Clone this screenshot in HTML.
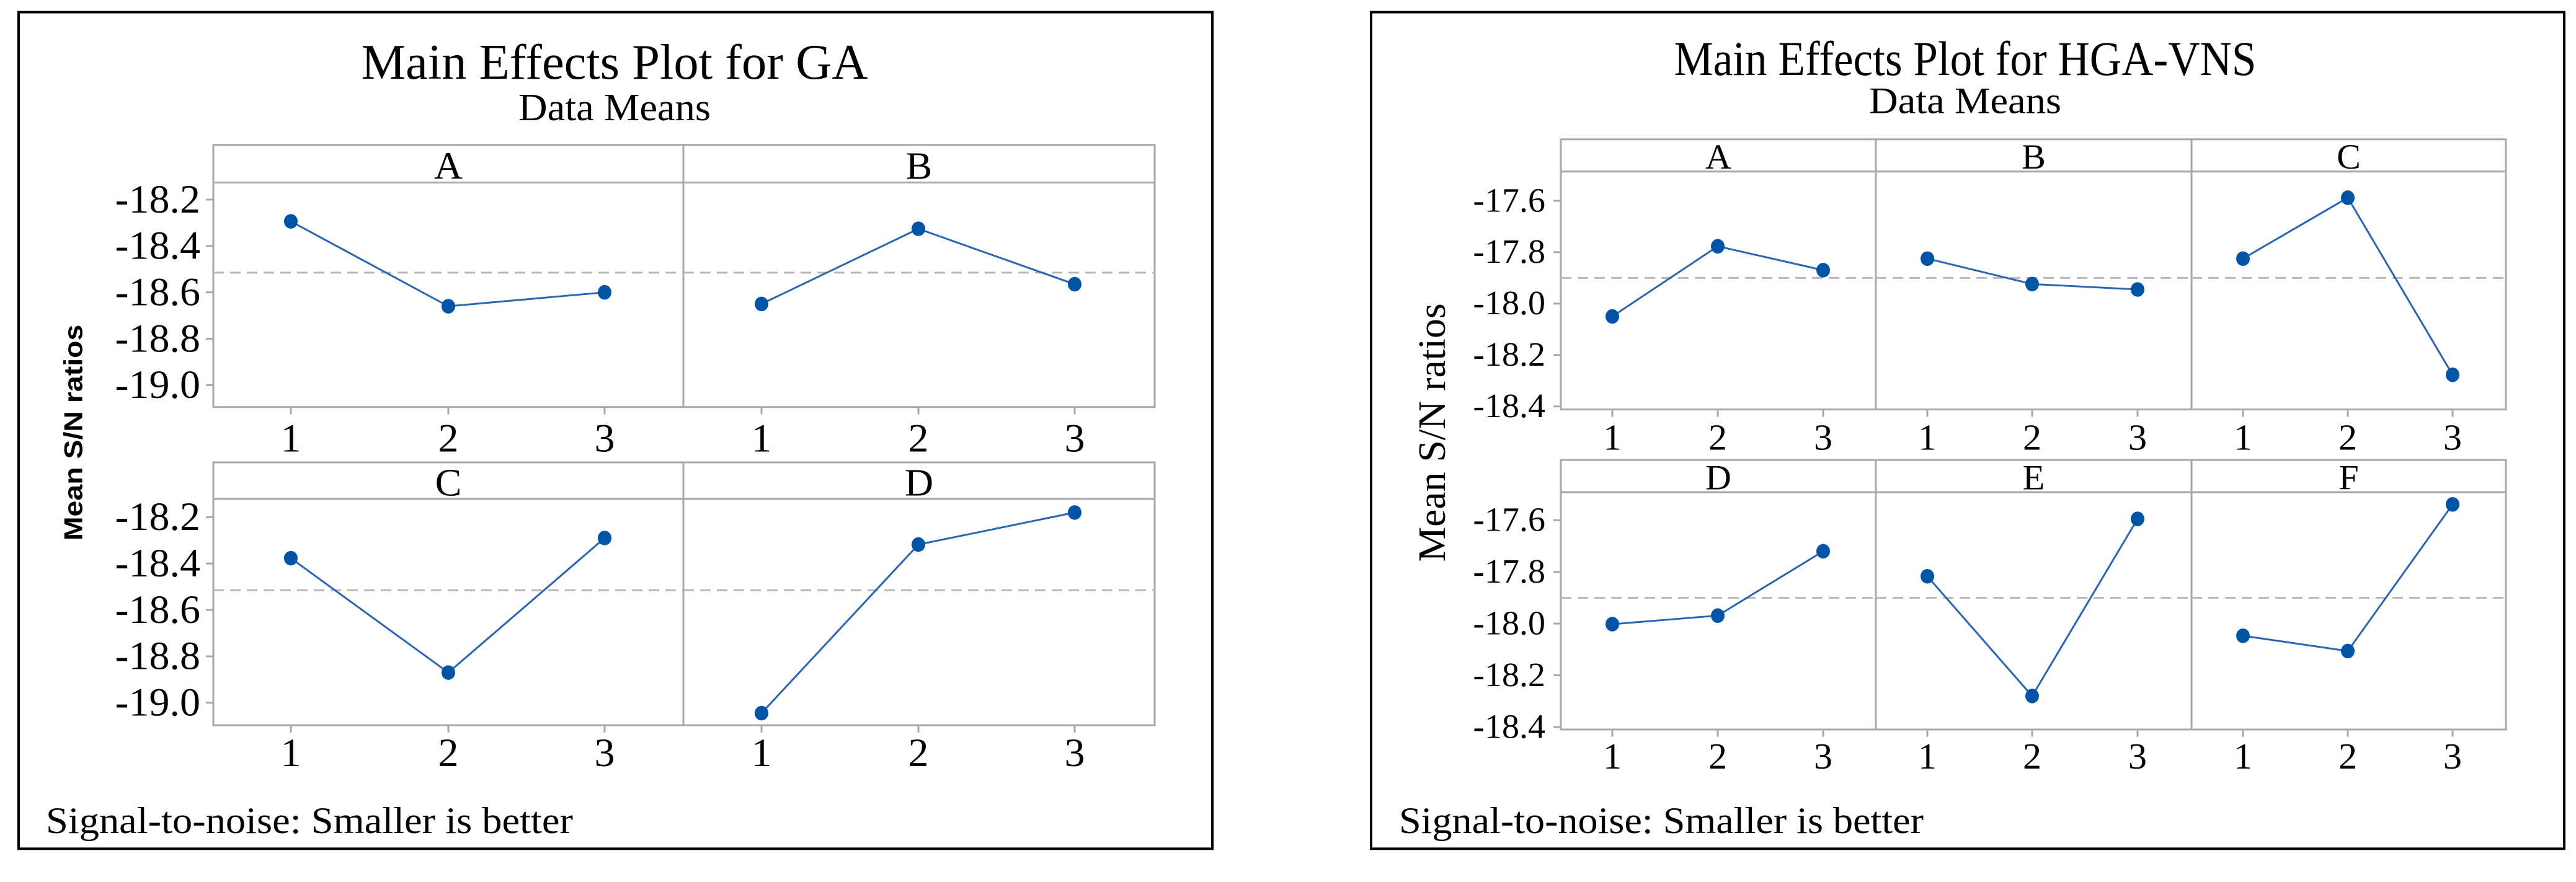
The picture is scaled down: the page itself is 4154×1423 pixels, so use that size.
<!DOCTYPE html>
<html><head><meta charset="utf-8"><style>
html,body{margin:0;padding:0;background:#fff;}
svg{display:block;}
</style></head><body>
<svg id="c" width="4154" height="1423" viewBox="0 0 4154 1423" xmlns="http://www.w3.org/2000/svg"><g id="root" transform="scale(1,0.9816)"></g></svg>
<script>
// ---- data ----
const gaFactors = ["A","B","C","D"];
const gaLevels = ["1","2","3"];
const gaA = [-18.294, -18.66, -18.60];
const gaB = [-18.65, -18.326, -18.565];
const gaC = [-18.377, -18.87, -18.29];
const gaD = [-19.045, -18.318, -18.18];
const gaMean = -18.515;
const gaTicks = [-18.2, -18.4, -18.6, -18.8, -19.0];

const hgFactors = ["A","B","C","D","E","F"];
const hgLevels = ["1","2","3"];
const hgA = [-18.05, -17.777, -17.87];
const hgB = [-17.825, -17.924, -17.945];
const hgC = [-17.825, -17.588, -18.277];
const hgD = [-18.002, -17.969, -17.72];
const hgE = [-17.817, -18.28, -17.595];
const hgF = [-18.047, -18.106, -17.539];
const hgMean = -17.9;
const hgTicks = [-17.6, -17.8, -18.0, -18.2, -18.4];

const NS = "http://www.w3.org/2000/svg";
const svg = document.getElementById("root");
function el(tag, attrs, parent){
  const e = document.createElementNS(NS, tag);
  for (const k in attrs) e.setAttribute(k, attrs[k]);
  (parent||svg).appendChild(e);
  return e;
}
function txt(parent, x, y, s, size, anchor){
  const t = el("text", {x:x, y:y, "font-size":size, "text-anchor":anchor||"middle",
    "font-family": '"Liberation Serif", serif', fill:"#000", "dominant-baseline":"central"}, parent);
  t.textContent = s;
  return t;
}

function chart(cfg){
  const g = el("g", {});
  
  
  el("rect", {x:cfg.fx0, y:cfg.fy0, width:cfg.fx1-cfg.fx0, height:cfg.fy1-cfg.fy0, fill:"#fff", stroke:"#000", "stroke-width":4}, g);
  const tt = el("text", {x:cfg.tx, y:cfg.ty, "font-size":cfg.tsize, "text-anchor":"middle", "dominant-baseline":"central",
    "font-family":'"Liberation Serif", serif', textLength:cfg.tlen, lengthAdjust:"spacingAndGlyphs"}, g);
  tt.textContent = cfg.title;
  
  
  const st = el("text", {x:cfg.tx, y:cfg.sy, "font-size":cfg.ssize, "text-anchor":"middle", "dominant-baseline":"central",
    "font-family":'"Liberation Serif", serif', textLength:cfg.slen, lengthAdjust:"spacingAndGlyphs"}, g);
  st.textContent = "Data Means";
  
  
  const ft = el("text", {x:cfg.footx, y:1349, "font-size":62, "text-anchor":"start", "dominant-baseline":"central",
    "font-family":'"Liberation Serif", serif', textLength:cfg.footlen, lengthAdjust:"spacingAndGlyphs"}, g);
  ft.textContent = "Signal-to-noise: Smaller is better";
  
  
  const yt = el("text", {x:0, y:0, "font-size":cfg.ytsize, "text-anchor":"middle", "dominant-baseline":"central",
    "font-family":cfg.ytfam, "font-weight":cfg.ytweight, textLength:cfg.ytlen, lengthAdjust:"spacingAndGlyphs",
    transform:`translate(${cfg.ytx},711) rotate(-90)`}, g);
  yt.textContent = "Mean S/N ratios";
  
  

  const nCols = cfg.cols.length - 1;
  cfg.factors.forEach((f, i) => {
    const r = Math.floor(i / nCols), c = i % nCols;
    const row = cfg.rows[r];
    const x0 = cfg.cols[c], x1 = cfg.cols[c+1];
    const pg = el("g", {}, g);
    
    
    const yScale = v => row.y0 + (row.v0 - v) * row.k;
    const xs = cfg.xpos[c];
    el("rect", {x:x0, y:row.ht, width:x1-x0, height:row.hb-row.ht, fill:"#fff", stroke:"#a8a8a8", "stroke-width":3}, pg);
    const ht = txt(pg, (x0+x1)/2, (row.ht+row.hb)/2 + 3, f, cfg.hsize, "middle");
    
    
    el("rect", {x:x0, y:row.hb, width:x1-x0, height:row.pb-row.hb, fill:"#fff", stroke:"#a8a8a8", "stroke-width":3}, pg);
    const my = yScale(cfg.mean);
    const ml = el("line", {x1:x0, x2:x1, y1:my, y2:my, stroke:"#b8b8b8", "stroke-width":3, "stroke-dasharray":"17,10"}, pg);
    
    
    cfg.levels.forEach((lv, j) => {
      el("line", {x1:xs[j], x2:xs[j], y1:row.pb, y2:row.pb+12, stroke:"#a8a8a8", "stroke-width":3}, pg);
      const xl = txt(pg, xs[j], row.xl, lv, cfg.xlsize, "middle");
      
      
    });
    if (c === 0) {
      cfg.ticks.forEach(t => {
        const y = yScale(t);
        el("line", {x1:x0-12, x2:x0, y1:y, y2:y, stroke:"#a8a8a8", "stroke-width":3}, pg);
        const yl = txt(pg, cfg.ylx, y, t.toFixed(1), cfg.ylsize, "end");
        
        
      });
    }
    const vals = cfg.series[i];
    const pts = vals.map((v, j) => `${xs[j]},${yScale(v)}`).join(" ");
    const pl = el("polyline", {points:pts, fill:"none", stroke:"#2a64b4", "stroke-width":3}, pg);
    
    
    vals.forEach((v, j) => {
      const m = el("ellipse", {cx:xs[j], cy:yScale(v), rx:11, ry:12, fill:"#0054a6"}, pg);
      
      
    });
  });
}

chart({
  name:"ga-chart", fx0:30, fy0:20, fx1:1955, fy1:1395,
  title:"Main Effects Plot for GA", tx:991, ty:102, tsize:82, tlen:817, sy:176, ssize:64, slen:310,
  footx:74, footlen:850,
  ytx:118, ytsize:42, ytfam:'"Liberation Sans", "DejaVu Sans", sans-serif', ytweight:"bold", ytlen:355,
  cols:[344,1102,1862],
  rows:[{ht:238,hb:300,pb:669,xl:721,y0:328,v0:-18.2,k:381.25},
        {ht:760,hb:820,pb:1192,xl:1238,y0:850,v0:-18.2,k:381.25}],
  xpos:[[469,723,975],[1228,1481,1733]],
  factors:gaFactors, levels:gaLevels, series:[gaA,gaB,gaC,gaD], mean:gaMean, ticks:gaTicks,
  hsize:64, xlsize:66, ylsize:66, ylx:323
});
chart({
  name:"hga-vns-chart", fx0:2211, fy0:20, fx1:4135, fy1:1395,
  title:"Main Effects Plot for HGA-VNS", tx:3169, ty:97, tsize:80, tlen:939, sy:166, ssize:62, slen:310,
  footx:2256, footlen:846,
  ytx:2310, ytsize:62, ytfam:'"Liberation Serif", serif', ytweight:"normal", ytlen:425,
  cols:[2517,3025,3534,4041],
  rows:[{ht:229,hb:282,pb:673,xl:719,y0:330,v0:-17.6,k:422.5},
        {ht:756,hb:809,pb:1199,xl:1243,y0:855,v0:-17.6,k:425}],
  xpos:[[2600,2770,2940],[3108,3277,3447],[3617,3786,3955]],
  factors:hgFactors, levels:hgLevels, series:[hgA,hgB,hgC,hgD,hgE,hgF], mean:hgMean, ticks:hgTicks,
  hsize:58, xlsize:60, ylsize:56, ylx:2492
});
</script>
</body></html>
